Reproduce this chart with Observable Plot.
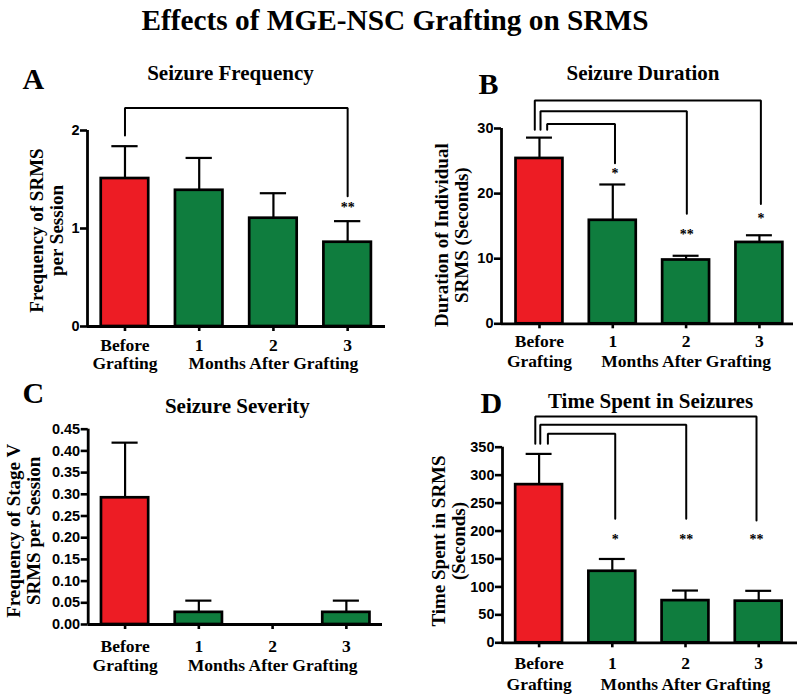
<!DOCTYPE html>
<html>
<head>
<meta charset="utf-8">
<script src="https://cdn.jsdelivr.net/npm/d3@7"></script>
<script src="https://cdn.jsdelivr.net/npm/@observablehq/plot@0.6"></script>
<style>
  body { margin: 0; background: #fff; }
  #wrap { position: relative; width: 800px; height: 694px; overflow: hidden; }
  #title { position: absolute; left: -5px; top: 6px; width: 800px; text-align: center;
           font: bold 29.3px/28px "Liberation Serif", "Times New Roman", serif; color: #000; }
</style>
</head>
<body>
<div id="wrap">
  <div id="title">Effects of MGE-NSC Grafting on SRMS</div>
</div>
<script>
// ---------- data ----------
const groups = [0, 1, 2, 3];
const groupLabels = ["Before", "1", "2", "3"];
const groupSubLabels = ["Grafting", "", "Months After Grafting", ""];
const groupColors = ["#ED1C24", "#0F7D3E", "#0F7D3E", "#0F7D3E"];

// Panel A: Seizure Frequency
const freqMean  = [1.51, 1.39, 1.105, 0.86];
const freqUpper = [1.84, 1.72, 1.36, 1.075];
const freqTicks = [0, 1, 2];

// Panel B: Seizure Duration
const durMean  = [25.4, 15.9, 9.8, 12.5];
const durUpper = [28.6, 21.4, 10.45, 13.6];
const durTicks = [0, 10, 20, 30];

// Panel C: Seizure Severity
const sevMean  = [0.292, 0.028, 0, 0.028];
const sevUpper = [0.419, 0.055, 0, 0.055];
const sevTicks = [0, 0.05, 0.10, 0.15, 0.20, 0.25, 0.30, 0.35, 0.40, 0.45];

// Panel D: Time Spent in Seizures
const timeMean  = [283, 128, 75.5, 74.5];
const timeUpper = [338, 150, 93.5, 93];
const timeTicks = [0, 50, 100, 150, 200, 250, 300, 350];

// significance brackets (data units)
const freqBrackets = [
  {fromX: 0, toX: 3, legBottom: 1.95, top: 2.23, drop: 1.33, star: "**", starY: 1.235}
];
const durBrackets = [
  {fromX: -0.064, toX: 3.02, legBottom: 29.8, top: 34.3, drop: 18.4, star: "*", starY: 16.5},
  {fromX: 0.014, toX: 2.01, legBottom: 29.8, top: 32.66, drop: 16.9, star: "**", starY: 14.07},
  {fromX: 0.105, toX: 1.03, legBottom: 29.8, top: 30.7, drop: 24.67, star: "*", starY: 23.4}
];
const sevBrackets = [];
const timeBrackets = [
  {fromX: -0.052, toX: 2.97, legBottom: 356, top: 405, drop: 219, star: "**", starY: 190},
  {fromX: 0.016, toX: 2.01, legBottom: 356, top: 390, drop: 222, star: "**", starY: 190},
  {fromX: 0.12, toX: 1.04, legBottom: 356, top: 374, drop: 222, star: "*", starY: 190}
];

// ---------- drawing ----------
const SERIF = '"Liberation Serif", "Times New Roman", serif';
const SANS = '"Liberation Sans", Arial, sans-serif';
const BAR_HALF = 0.32;
const CAP_HALF = 0.177;

function panel(p) {
  const rows = groups.map((g, i) => ({
    g, mean: p.means[i], upper: p.uppers[i], color: groupColors[i],
    label: groupLabels[i], sub: groupSubLabels[i]
  }));
  const bars = rows.filter(d => d.mean > 0);
  const bracketPts = p.brackets.flatMap((b, k) => [
    {k, x: b.fromX, y: b.legBottom},
    {k, x: b.fromX, y: b.top},
    {k, x: b.toX, y: b.top},
    {k, x: b.toX, y: b.drop}
  ]);
  const svg = Plot.plot({
    width: 400,
    height: p.height,
    marginLeft: p.ml, marginRight: p.mr, marginTop: p.mt, marginBottom: p.mb,
    x: {domain: p.xDomain},
    y: {domain: p.yDomain},
    color: {type: "identity"},
    style: {fontFamily: SERIF, fontWeight: "bold", fontSize: "17px", overflow: "visible",
            background: "transparent", color: "#000"},
    marks: [
      Plot.ruleX(bars, {x: "g", y1: "mean", y2: "upper", strokeWidth: 2.2}),
      Plot.ruleY(bars, {y: "upper", x1: d => d.g - CAP_HALF, x2: d => d.g + CAP_HALF, strokeWidth: 2.2}),
      Plot.rect(bars, {x1: d => d.g - BAR_HALF, x2: d => d.g + BAR_HALF, y1: 0, y2: "mean",
                       fill: "color", stroke: "#000", strokeWidth: 2.7}),
      Plot.ruleY([0], {strokeWidth: 2.8}),
      Plot.ruleX([p.xDomain[0]], {y1: 0, y2: p.yDomain[1], strokeWidth: 2.8}),
      Plot.axisY({ticks: p.yTicks, tickSize: 7, tickPadding: 1, tickFormat: p.tickFormat,
                  strokeWidth: 2.6, fontFamily: SANS, fontWeight: "bold", fontSize: 14.5, label: null}),
      Plot.axisX({ticks: groups, tickSize: 5, tickFormat: () => "", strokeWidth: 2.6, label: null}),
      Plot.text(rows, {x: "g", frameAnchor: "bottom", text: "label", dy: p.lab1, lineAnchor: "bottom",
                       fontSize: 17.5, fontWeight: "bold"}),
      Plot.text(rows, {x: "g", frameAnchor: "bottom", text: "sub", dy: p.lab2, lineAnchor: "bottom",
                       fontSize: 17.5, fontWeight: "bold"}),
      Plot.line(bracketPts, {x: "x", y: "y", z: "k", strokeWidth: 2, strokeLinejoin: "miter"}),
      Plot.text(p.brackets, {x: "toX", y: "starY", text: "star", fontSize: 14, dy: 2.5,
                             lineAnchor: "middle", fontFamily: SERIF}),
      Plot.text([p.letter], {frameAnchor: "top-left", text: d => d, dx: p.letterDx, dy: p.letterDy,
                             textAnchor: "start", lineAnchor: "bottom", fontSize: 30, fontWeight: "bold"}),
      Plot.text([p.title], {frameAnchor: "top", text: d => d, dx: p.titleDx, dy: p.titleDy,
                            lineAnchor: "bottom", fontSize: 21, fontWeight: "bold"}),
      Plot.text([p.yTitle], {frameAnchor: "left", text: d => d, rotate: -90, dx: p.yTitleDx, dy: p.yTitleDy,
                             lineAnchor: "middle", textAnchor: "middle", lineHeight: 1.05,
                             fontSize: 19, fontWeight: "bold"})
    ]
  });
  svg.style.position = "absolute";
  svg.style.left = p.left + "px";
  svg.style.top = p.top + "px";
  document.getElementById("wrap").appendChild(svg);
}

panel({
  left: 0, top: 40, height: 335, ml: 87, mr: 15, mt: 90, mb: 49,
  xDomain: [-0.505, 3.51], yDomain: [0, 2], yTicks: freqTicks, tickFormat: d => d,
  means: freqMean, uppers: freqUpper, brackets: freqBrackets,
  lab1: 24, lab2: 42.5,
  letter: "A", letterDx: -65, letterDy: -42,
  title: "Seizure Frequency", titleDx: -6, titleDy: -51,
  yTitle: "Frequency of SRMS\nper Session", yTitleDx: -41, yTitleDy: 2
});

panel({
  left: 400, top: 40, height: 335, ml: 101, mr: 7, mt: 88, mb: 51.7,
  xDomain: [-0.518, 3.465], yDomain: [0, 30], yTicks: durTicks, tickFormat: d => d,
  means: durMean, uppers: durUpper, brackets: durBrackets,
  lab1: 23.5, lab2: 43.5,
  letter: "B", letterDx: -23, letterDy: -34.7,
  title: "Seizure Duration", titleDx: -4.5, titleDy: -49,
  yTitle: "Duration of Individual\nSRMS (Seconds)", yTitleDx: -50, yTitleDy: 9
});

panel({
  left: 0, top: 372, height: 322, ml: 87.7, mr: 18, mt: 56.7, mb: 70,
  xDomain: [-0.5, 3.49], yDomain: [0, 0.45], yTicks: sevTicks, tickFormat: d3.format(".2f"),
  means: sevMean, uppers: sevUpper, brackets: sevBrackets,
  lab1: 27, lab2: 46.5,
  letter: "C", letterDx: -65.7, letterDy: -26.7,
  title: "Seizure Severity", titleDx: 2, titleDy: -16.7,
  yTitle: "Frequency of Stage V\nSRMS per Session", yTitleDx: -65, yTitleDy: 4
});

panel({
  left: 400, top: 372, height: 322, ml: 102, mr: 3, mt: 74.7, mb: 51.7,
  xDomain: [-0.5, 3.53], yDomain: [0, 350], yTicks: timeTicks, tickFormat: d => d,
  means: timeMean, uppers: timeUpper, brackets: timeBrackets,
  lab1: 26, lab2: 47,
  letter: "D", letterDx: -22, letterDy: -34.7,
  title: "Time Spent in Seizures", titleDx: 0.5, titleDy: -39.7,
  yTitle: "Time Spent in SRMS\n(Seconds)", yTitleDx: -54, yTitleDy: -4
});
</script>
</body>
</html>
